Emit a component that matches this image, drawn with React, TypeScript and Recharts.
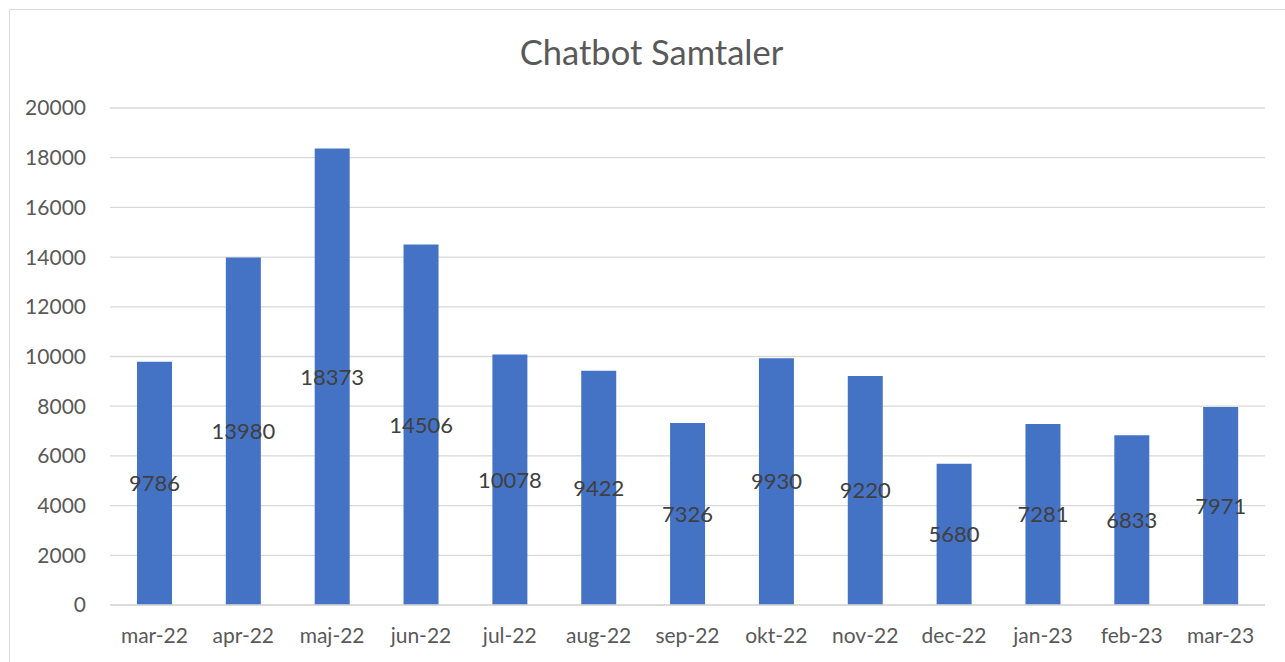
import { BarChart, Bar, XAxis, YAxis, CartesianGrid, LabelList } from 'recharts';

const months = ['mar-22', 'apr-22', 'maj-22', 'jun-22', 'jul-22', 'aug-22', 'sep-22', 'okt-22', 'nov-22', 'dec-22', 'jan-23', 'feb-23', 'mar-23'];
const samtaler = [9786, 13980, 18373, 14506, 10078, 9422, 7326, 9930, 9220, 5680, 7281, 6833, 7971];
const yTicks = [0, 2000, 4000, 6000, 8000, 10000, 12000, 14000, 16000, 18000, 20000];

const data = months.map((m, i) => ({ month: m, value: samtaler[i] }));

const font = 'Lato, "Open Sans", sans-serif';

export default function App() {
  return (
    <div style={{ position: 'absolute', left: 0, top: 0, width: 1285, height: 662, overflow: 'hidden', background: '#fff', fontFamily: font }}>
      <div style={{ position: 'absolute', left: 9, top: 9, width: 1300, height: 700, border: '1.5px solid #d9d9d9', boxSizing: 'border-box' }} />
      <div style={{ position: 'absolute', left: 0, width: 1303, top: 31, textAlign: 'center', fontSize: 34.5, color: '#595959' }}>
        Chatbot Samtaler
      </div>
      <div style={{ position: 'absolute', left: 0, top: 0 }}>
        <BarChart width={1285} height={662} data={data} margin={{ top: 108, right: 20, bottom: 0, left: 0 }} barSize={35}>
          <CartesianGrid vertical={false} stroke="#d9d9d9" strokeWidth={1.3} />
          <XAxis
            dataKey="month"
            axisLine={{ stroke: '#d9d9d9', strokeWidth: 1.5 }}
            tickLine={false}
            tickSize={0}
            tickMargin={23}
            height={57}
            tick={{ fill: '#595959', fontSize: 21, fontFamily: font }}
          />
          <YAxis
            width={110}
            domain={[0, 20000]}
            ticks={yTicks}
            axisLine={false}
            tickLine={false}
            tickSize={0}
            tickMargin={24}
            tick={{ fill: '#595959', fontSize: 21, fontFamily: font }}
          />
          <Bar dataKey="value" fill="#4472c4" isAnimationActive={false}>
            <LabelList dataKey="value" position="center" fill="#404040" fontSize={22} fontFamily={font} />
          </Bar>
        </BarChart>
      </div>
    </div>
  );
}
